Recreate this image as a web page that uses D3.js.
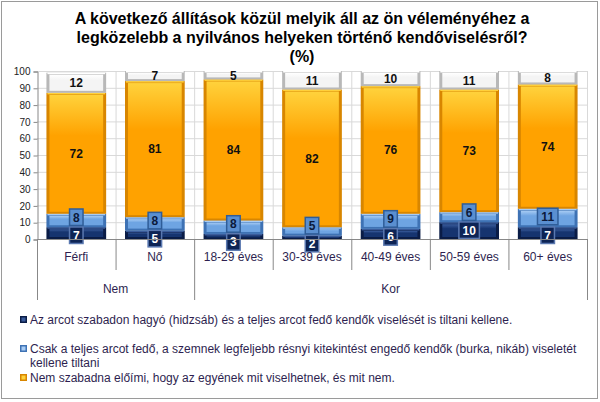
<!doctype html>
<html>
<head>
<meta charset="utf-8">
<script src="https://cdn.jsdelivr.net/npm/d3@7"></script>
<style>
  body { margin: 0; background: #fff; }
  svg { font-family: Arial, "Liberation Sans", sans-serif; }
</style>
</head>
<body>
<svg id="chart" width="600" height="402"></svg>
<script>
  var categories = ['Férfi', 'Nő', '18-29 éves', '30-39 éves', '40-49 éves', '50-59 éves', '60+ éves'];
  var groupNames = ['Nem', 'Kor'];
  var groupSizes = [2, 5];
  var banBoth = [7, 5, 3, 2, 6, 10, 7];
  var banFull = [8, 8, 8, 5, 9, 6, 11];
  var noRule = [72, 81, 84, 82, 76, 73, 74];
  var other = [12, 7, 5, 11, 10, 11, 8];
  var yTicks = [0, 10, 20, 30, 40, 50, 60, 70, 80, 90, 100];
  var legendLabels = [
    ['Az arcot szabadon hagyó (hidzsáb) és a teljes arcot fedő kendők viselését is tiltani kellene.'],
    ['Csak a teljes arcot fedő, a szemnek legfeljebb résnyi kitekintést engedő kendők (burka, nikáb) viseletét', 'kellene tiltani'],
    ['Nem szabadna előími, hogy az egyének mit viselhetnek, és mit nem.']
  ];
  var titleLines = ['A következő állítások közül melyik áll az ön véleményéhez a',
    'legközelebb a nyilvános helyeken történő kendőviselésről?', '(%)'];

  (function () {
    var keys = ['banBoth', 'banFull', 'noRule', 'other'];
    var styles = {
      banBoth: { edge: '#0a1c46', main: '#16346f', hi: '#3a5c9c', box: true, boxFill: '#0d2455', boxEdge: '#5a78b0', text: '#fff' },
      banFull: { edge: '#3e72b4', main: '#6ea4e2', hi: '#a8ccf4', box: true, boxFill: '#5a8fd0', boxEdge: '#2f5d98', text: '#0c1a3a' },
      noRule: { edge: '#d88600', main: '#ffa200', hi: '#ffd23c', box: false, text: '#111' },
      other: { edge: '#b8b8b8', main: '#f4f4f4', hi: '#ffffff', box: false, text: '#111' }
    };

    var rows = categories.map(function (c, i) {
      return { cat: c, banBoth: banBoth[i], banFull: banFull[i], noRule: noRule[i], other: other[i] };
    });

    var svg = d3.select('#chart');
    var textColor = '#2e1f50';

    // outer frame
    svg.append('rect').attr('x', 1.5).attr('y', 1.5).attr('width', 596).attr('height', 397)
      .attr('fill', '#fff').attr('stroke', '#9a9a9a').attr('stroke-width', 1);

    // title
    svg.append('g').selectAll('text').data(titleLines).enter().append('text')
      .attr('x', 302).attr('y', function (d, i) { return 24 + i * 19; })
      .attr('text-anchor', 'middle').attr('font-size', 16).attr('font-weight', 'bold')
      .attr('fill', '#000').text(function (d) { return d; });

    var pLeft = 37, pRight = 587, pTop = 71, pBottom = 239;
    var x = d3.scaleBand().domain(categories).range([pLeft, pRight]).padding(0);
    var y = d3.scaleLinear().domain([0, 100]).range([pBottom, pTop]).clamp(true);
    var barW = x.bandwidth() * 0.76;

    // grid
    var grid = svg.append('g');
    grid.selectAll('line.h').data(yTicks).enter().append('line')
      .attr('x1', pLeft).attr('x2', pRight)
      .attr('y1', function (d) { return y(d) + 0.5; }).attr('y2', function (d) { return y(d) + 0.5; })
      .attr('stroke', '#d9d9d9');
    grid.selectAll('line.v').data(categories.slice(1).concat(['__end'])).enter().append('line')
      .attr('x1', function (d) { return d === '__end' ? pRight + 0.5 : x(d) + 0.5; })
      .attr('x2', function (d) { return d === '__end' ? pRight + 0.5 : x(d) + 0.5; })
      .attr('y1', pTop).attr('y2', pBottom)
      .attr('stroke', '#d9d9d9');

    // y axis
    var yAxis = svg.append('g').attr('transform', 'translate(' + (pLeft + 0.5) + ',0.5)')
      .call(d3.axisLeft(y).tickValues(yTicks).tickSize(4).tickPadding(3));
    yAxis.select('.domain').attr('stroke', '#888');
    yAxis.selectAll('.tick line').attr('stroke', '#888');
    yAxis.selectAll('text').attr('font-size', 10).attr('fill', '#222').attr('font-family', 'Arial, "Liberation Sans", sans-serif');

    // bars
    var stack = d3.stack().keys(keys)(rows);
    var defs = svg.append('defs');
    keys.forEach(function (k) {
      var s = styles[k];
      var g = defs.append('linearGradient').attr('id', 'grad-' + k).attr('x1', 0).attr('x2', 0).attr('y1', 0).attr('y2', 1);
      g.append('stop').attr('offset', '0%').attr('stop-color', s.hi);
      g.append('stop').attr('offset', '35%').attr('stop-color', s.main);
      g.append('stop').attr('offset', '100%').attr('stop-color', s.main);
    });

    var series = svg.append('g').selectAll('g').data(stack).enter().append('g');
    var seg = series.selectAll('g').data(function (d) {
      return d.map(function (p) { return { key: d.key, p: p }; });
    }).enter().append('g');

    function bx(d) { return x(d.p.data.cat) + (x.bandwidth() - barW) / 2; }
    function by(d) { return y(d.p[1]); }
    function bh(d) { return Math.max(0, y(d.p[0]) - y(d.p[1])); }

    seg.append('rect')
      .attr('x', bx).attr('y', by).attr('width', barW).attr('height', bh)
      .attr('fill', function (d) { return styles[d.key].edge; });
    seg.append('rect')
      .attr('x', function (d) { return bx(d) + 3; })
      .attr('y', function (d) { return by(d) + Math.min(2, bh(d) / 3); })
      .attr('width', barW - 6)
      .attr('height', function (d) { return Math.max(0, bh(d) - 2 * Math.min(2, bh(d) / 3)); })
      .attr('fill', function (d) { return 'url(#grad-' + d.key + ')'; });
    seg.append('rect')
      .attr('x', function (d) { return bx(d) + 1; })
      .attr('y', function (d) { return by(d); })
      .attr('width', barW - 2)
      .attr('height', function (d) { return Math.min(1.5, bh(d)); })
      .attr('fill', function (d) { return styles[d.key].hi; });

    // labels: the boxed ones sit near the top of their segment, like Excel places them
    function labelY(d) {
      var top = y(d.p[1]);
      var mid = (y(d.p[0]) + y(d.p[1])) / 2;
      if (d.key === 'banBoth') return top + 8;
      if (d.key === 'banFull') {
        var navyTop = y(d.p[0]) - 1;
        return Math.min(mid - 1.5, navyTop - 9);
      }
      return mid;
    }

    var labels = svg.append('g').selectAll('g').data(stack).enter().append('g')
      .selectAll('g').data(function (d) {
        return d.map(function (p) { return { key: d.key, p: p }; });
      }).enter().append('g')
      .attr('transform', function (d) {
        var cx = x(d.p.data.cat) + x.bandwidth() / 2;
        return 'translate(' + cx + ',' + labelY(d) + ')';
      });

    labels.filter(function (d) { return styles[d.key].box; }).each(function (d) {
      var s = styles[d.key];
      var v = d.p.data[d.key];
      var w = String(v).length > 1 ? 22 : 15;
      var g = d3.select(this);
      g.append('rect').attr('x', -w / 2).attr('y', -9).attr('width', w).attr('height', 18)
        .attr('fill', s.boxEdge);
      g.append('rect').attr('x', -w / 2 + 1.5).attr('y', -7.5).attr('width', w - 3).attr('height', 15)
        .attr('fill', s.boxFill);
    });

    labels.append('text')
      .attr('text-anchor', 'middle').attr('dy', '0.36em')
      .attr('font-size', 12).attr('font-weight', 'bold')
      .attr('fill', function (d) { return styles[d.key].text; })
      .text(function (d) { return d.p.data[d.key]; });

    // x axis (two levels)
    var xa = svg.append('g');
    xa.append('line').attr('x1', pLeft).attr('x2', pRight + 1).attr('y1', pBottom + 0.5).attr('y2', pBottom + 0.5)
      .attr('stroke', '#888');
    xa.selectAll('text.cat').data(categories).enter().append('text')
      .attr('x', function (d) { return x(d) + x.bandwidth() / 2; })
      .attr('y', 261).attr('text-anchor', 'middle').attr('font-size', 12)
      .attr('fill', textColor).text(function (d) { return d; });

    var starts = [0];
    groupSizes.forEach(function (n, i) { starts.push(starts[i] + n); });
    categories.forEach(function (c, i) {
      if (i === 0 || starts.indexOf(i) >= 0) return;
      xa.append('line').attr('x1', x(c) + 0.5).attr('x2', x(c) + 0.5).attr('y1', pBottom).attr('y2', 270)
        .attr('stroke', '#888');
    });
    starts.forEach(function (si) {
      var ex = si < categories.length ? x(categories[si]) : pRight;
      xa.append('line').attr('x1', ex + 0.5).attr('x2', ex + 0.5).attr('y1', pBottom).attr('y2', 300)
        .attr('stroke', '#888');
    });
    groupNames.forEach(function (name, i) {
      var a = x(categories[starts[i]]);
      var b = starts[i + 1] < categories.length ? x(categories[starts[i + 1]]) : pRight;
      xa.append('text').attr('x', (a + b) / 2).attr('y', 293).attr('text-anchor', 'middle')
        .attr('font-size', 12).attr('fill', textColor).text(name);
    });

    // legend
    var legY = [324, 353, 382];
    var legKeys = ['banBoth', 'banFull', 'noRule'];
    var legend = svg.append('g');
    legKeys.forEach(function (k, i) {
      var s = styles[k];
      legend.append('rect').attr('x', 20).attr('y', legY[i] - 8).attr('width', 7).attr('height', 7)
        .attr('fill', s.edge);
      legend.append('rect').attr('x', 21.5).attr('y', legY[i] - 6.5).attr('width', 4).attr('height', 4)
        .attr('fill', s.hi);
      legendLabels[i].forEach(function (line, j) {
        legend.append('text').attr('x', 30).attr('y', legY[i] + j * 14)
          .attr('font-size', 12).attr('fill', textColor).text(line);
      });
    });
  })();
</script>
</body>
</html>
